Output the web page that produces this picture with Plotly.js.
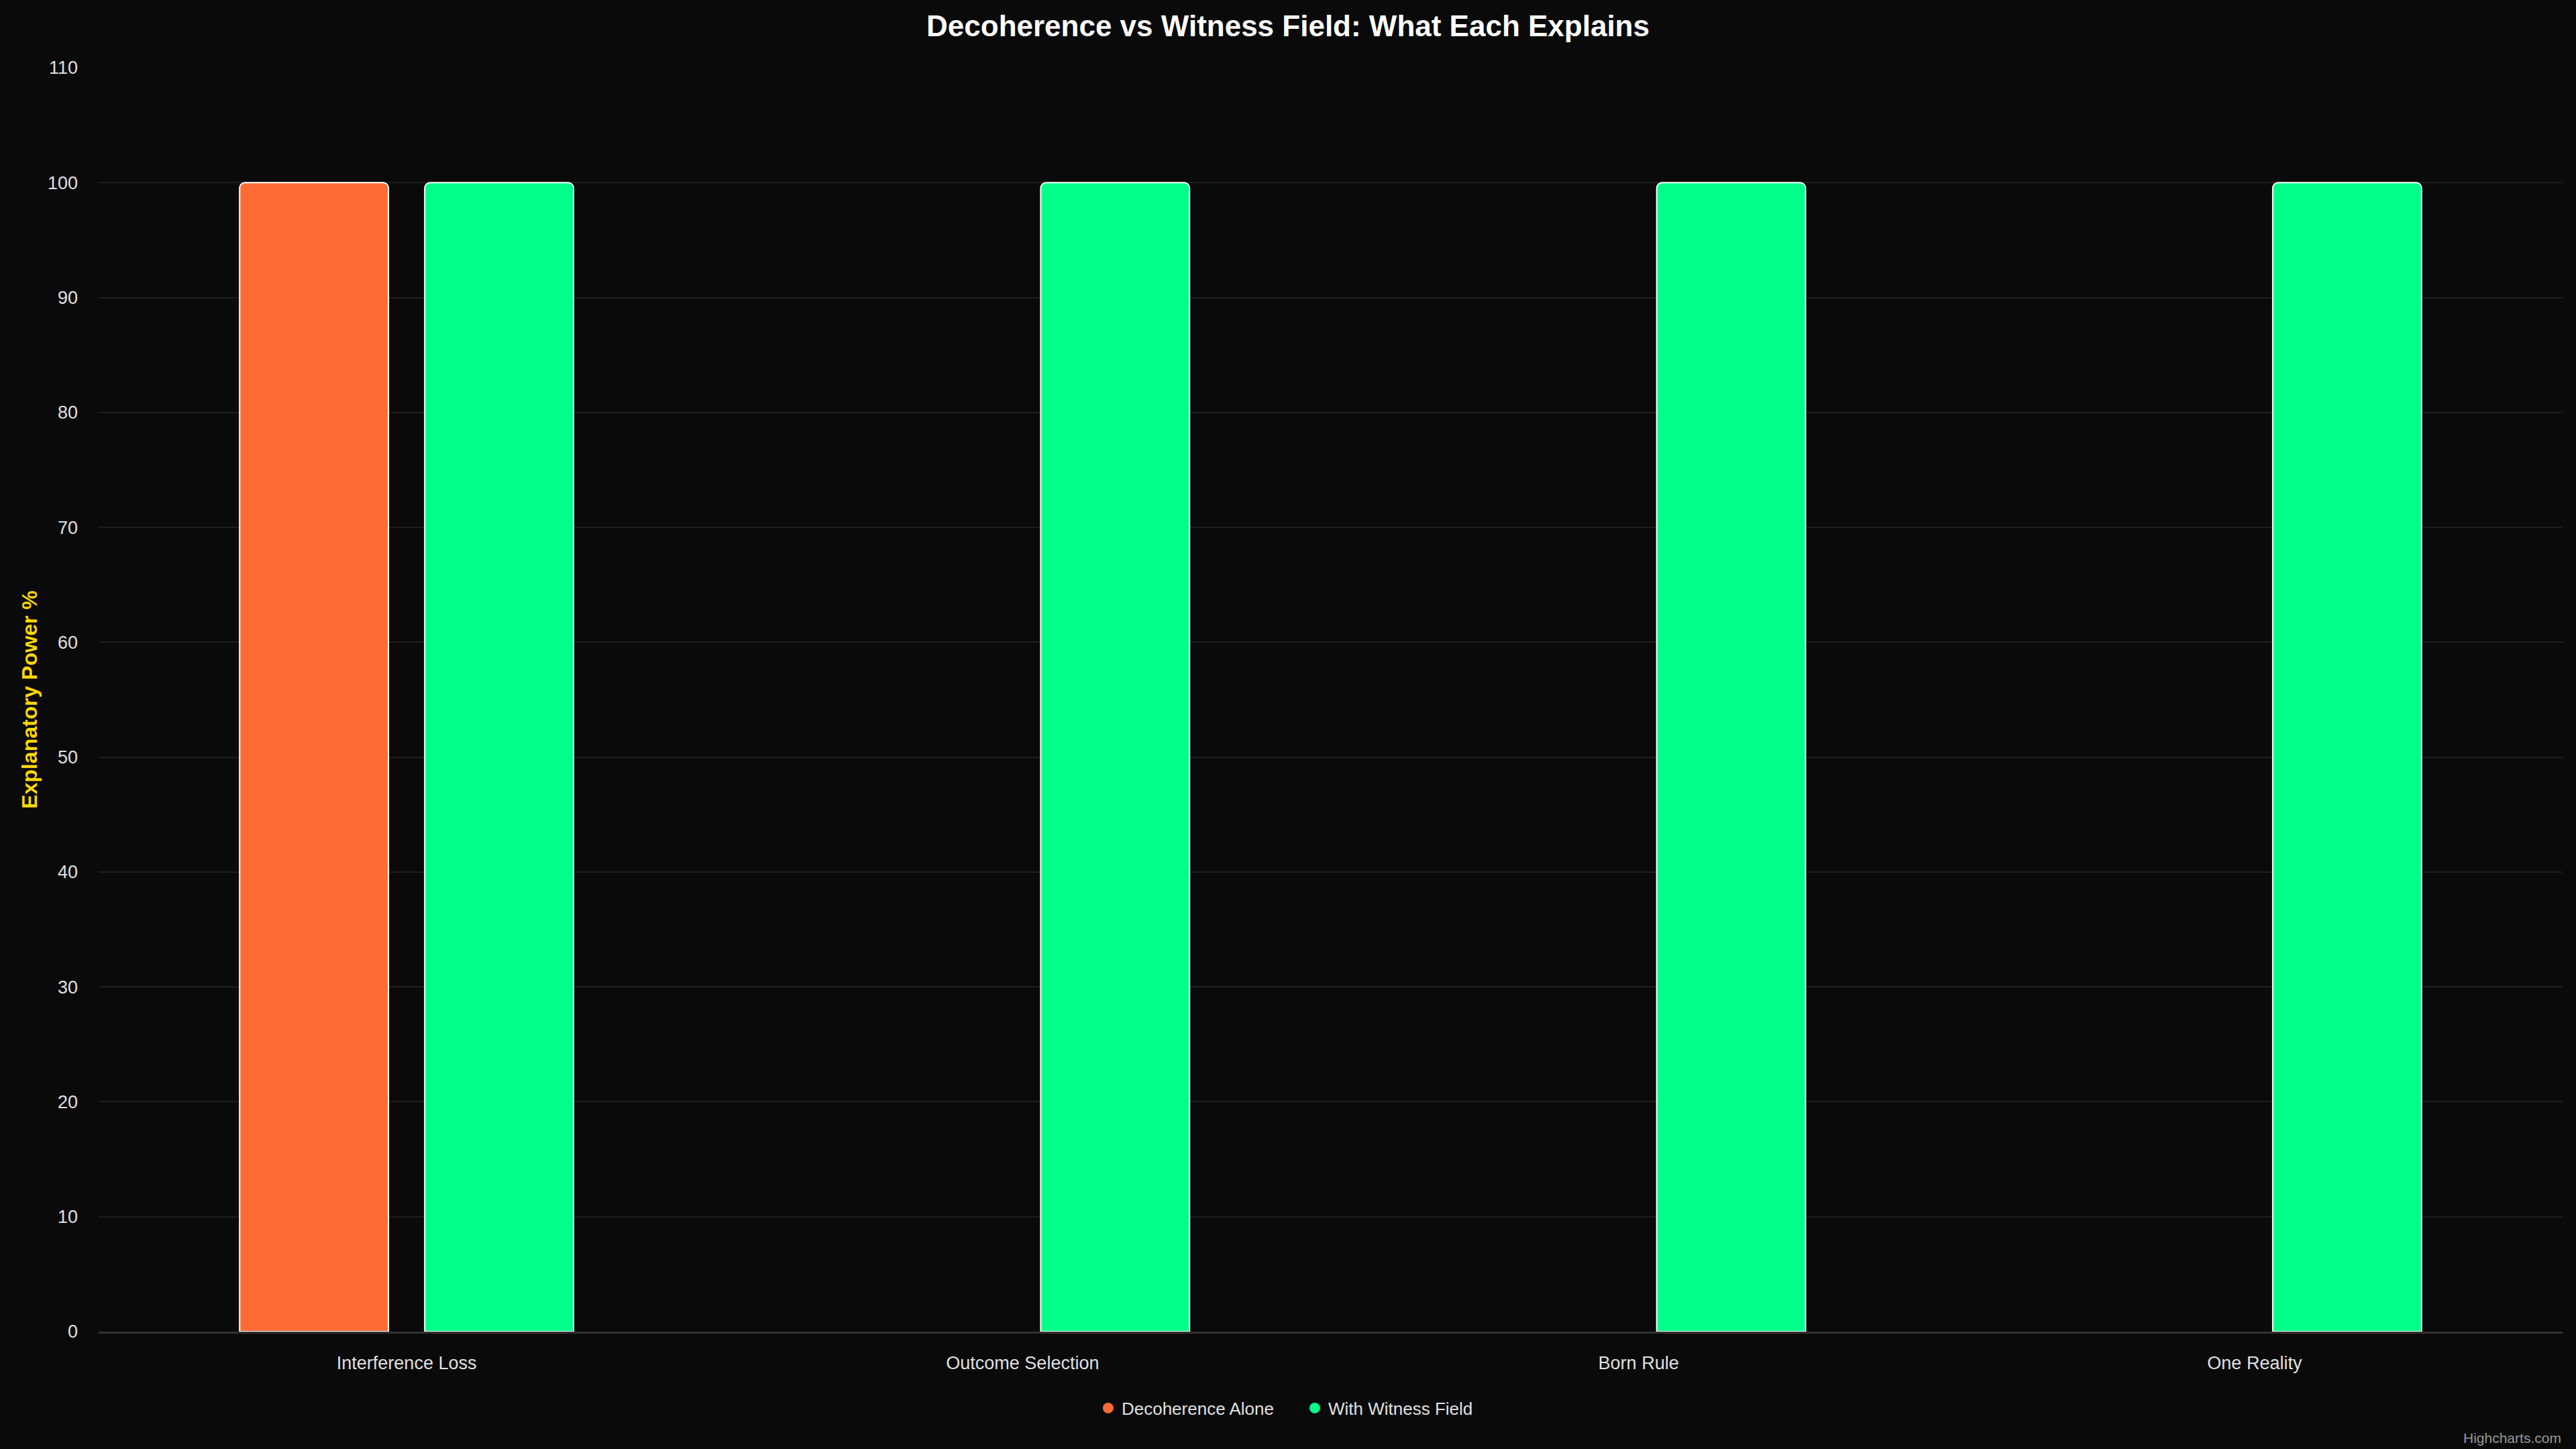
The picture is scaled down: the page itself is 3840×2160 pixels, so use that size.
<!DOCTYPE html>
<html>
<head>
<meta charset="utf-8">
<script src="https://cdn.plot.ly/plotly-3.0.1.min.js"></script>
<style>
html,body{margin:0;padding:0;background:#0a0a0a;}
#chart{width:3840px;height:2160px;}
</style>
</head>
<body>
<div id="chart"></div>
<script>
const categories = ["Interference Loss", "Outcome Selection", "Born Rule", "One Reality"];
const decoherenceAlone = [100, 0, 0, 0];
const withWitnessField = [100, 100, 100, 100];
const seriesNames = ["Decoherence Alone", "With Witness Field"];
const seriesColors = ["#FF6B35", "#00FF88"];
const yTickValues = [0, 10, 20, 30, 40, 50, 60, 70, 80, 90, 100, 110];

const FONT = "Liberation Sans, Arial, Helvetica, sans-serif";

const barTraces = [decoherenceAlone, withWitnessField].map((vals, i) => ({
  type: "bar",
  name: seriesNames[i],
  x: categories,
  y: vals,
  showlegend: false,
  marker: {
    color: seriesColors[i],
    line: { color: "#ffffff", width: vals.map(v => (v > 0 ? 2 : 0)) },
    cornerradius: 8
  },
  hoverinfo: "x+y+name"
}));

const legendTraces = seriesNames.map((n, i) => ({
  type: "scatter",
  mode: "markers",
  name: n,
  x: [categories[0]],
  y: [null],
  marker: { color: seriesColors[i], size: 26, symbol: "circle" },
  hoverinfo: "skip"
}));

const layout = {
  width: 3840,
  height: 2160,
  paper_bgcolor: "#0a0a0a",
  plot_bgcolor: "#0a0a0a",
  font: { family: FONT, color: "#e0e0e0", size: 27 },
  margin: { l: 147, r: 20, t: 101, b: 175 },
  barmode: "group",
  bargap: 0.399,
  bargroupgap: 0.196,
  title: {
    text: "<b>Decoherence vs Witness Field: What Each Explains</b>",
    font: { family: FONT, size: 44, color: "#ffffff" },
    xref: "container", x: 0.5, xanchor: "center",
    yref: "container", y: 1 - 39 / 2160, yanchor: "middle"
  },
  xaxis: {
    type: "category",
    categoryarray: categories,
    showgrid: false,
    showline: true,
    linecolor: "#333333",
    linewidth: 3,
    ticks: "",
    ticklabelstandoff: 21,
    tickfont: { family: FONT, size: 27, color: "#e0e0e0" },
    zeroline: false,
    fixedrange: true
  },
  yaxis: {
    range: [0, 110],
    tickvals: yTickValues,
    ticktext: yTickValues.map(String),
    showgrid: true,
    gridcolor: "#1f1f1f",
    gridwidth: 2,
    zeroline: false,
    showline: false,
    ticks: "",
    ticklabelstandoff: 30,
    tickfont: { family: FONT, size: 27, color: "#e0e0e0" },
    title: {
      text: "<b>Explanatory Power %</b>",
      font: { family: FONT, size: 32, color: "#FFD700" },
      standoff: 5
    },
    fixedrange: true
  },
  legend: {
    orientation: "h",
    xref: "container", x: 0.5052, xanchor: "center",
    yref: "container", y: 1 - 2099 / 2160, yanchor: "middle",
    font: { family: FONT, size: 26, color: "#e0e0e0" },
    bgcolor: "rgba(0,0,0,0)",
    entrywidth: 263,
    itemclick: false
  },
  annotations: [{
    text: "Highcharts.com",
    xref: "paper", x: 1, xanchor: "right",
    yref: "paper", y: (1985 - 2143) / 1884, yanchor: "middle",
    showarrow: false,
    font: { family: FONT, size: 21, color: "#999999" }
  }]
};

Plotly.newPlot("chart", barTraces.concat(legendTraces), layout, { displayModeBar: false, staticPlot: true });
</script>
</body>
</html>
